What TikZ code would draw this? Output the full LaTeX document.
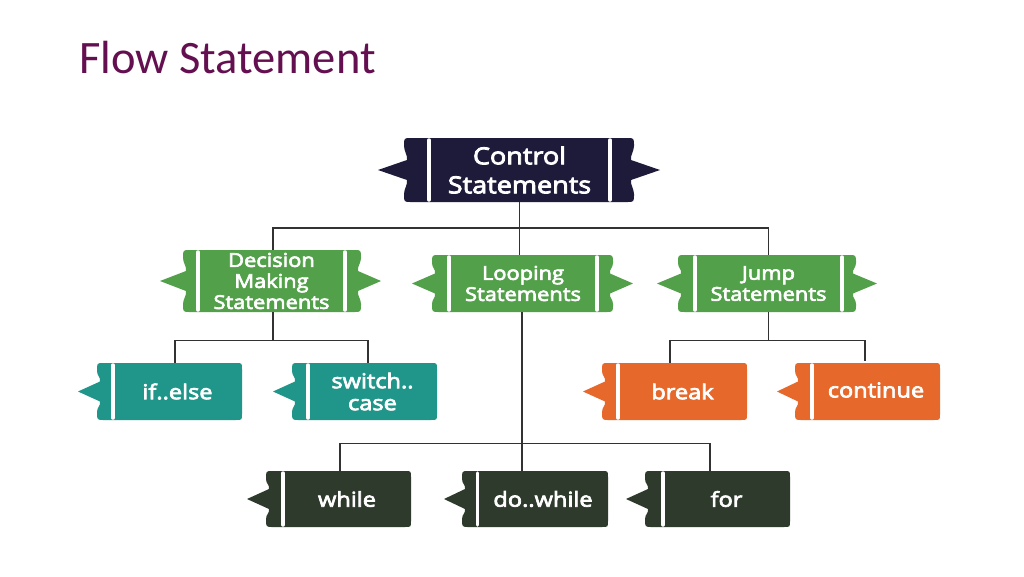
\documentclass[tikz,border=0pt]{standalone}
\usepackage{fontspec}
\newfontfamily\boxfont{Open Sans}[FakeStretch=1.15,FakeBold=3.5]
\newfontfamily\titlefont{Carlito}
\definecolor{ctrlcol}{RGB}{30,27,58}
\definecolor{grn}{RGB}{82,160,73}
\definecolor{tealc}{RGB}{31,150,137}
\definecolor{orng}{RGB}{230,104,42}
\definecolor{darkc}{RGB}{45,58,44}
\definecolor{titlecol}{RGB}{100,16,80}
\definecolor{linec}{RGB}{50,50,50}
% left tab only: #1 colour, #2 tip x, #3 left x, #4 right x, #5 top, #6 bottom
\newcommand\tabone[6]{%
 \pgfmathsetmacro\bm{(#5+#6)/2}%
 \fill[#1] ({#3+6},#5) -- ({#4-6},#5) .. controls (#4,#5) .. (#4,{#5+6}) -- (#4,{#6-6}) .. controls (#4,#6) .. ({#4-6},#6)
  -- ({#3+7},#6) .. controls (#3,#6) .. (#3,{#6-8}) .. controls (#3,{#6-13}) and ({#3+4},{\bm+14}) .. ({#3+3},{\bm+10}) -- (#2,\bm) -- ({#3+3},{\bm-10}) .. controls ({#3+4},{\bm-14}) and (#3,{#5+13}) .. (#3,{#5+8}) .. controls (#3,#5) .. cycle;}
% two tabs: #1 colour, #2 left tip, #3 left x, #4 right x, #5 right tip, #6 top, #7 bottom
\newcommand\tabtwo[7]{%
 \pgfmathsetmacro\bm{(#6+#7)/2}%
 \fill[#1] ({#3+7},#6) -- ({#4-7},#6) .. controls (#4,#6) .. (#4,{#6+8}) .. controls (#4,{#6+13}) and ({#4-4},{\bm-14}) .. ({#4-3},{\bm-10}) -- (#5,\bm) -- ({#4-3},{\bm+10}) .. controls ({#4-4},{\bm+14}) and (#4,{#7-13}) .. (#4,{#7-8}) .. controls (#4,#7) .. ({#4-7},#7)
  -- ({#3+7},#7) .. controls (#3,#7) .. (#3,{#7-8}) .. controls (#3,{#7-13}) and ({#3+4},{\bm+14}) .. ({#3+3},{\bm+10}) -- (#2,\bm) -- ({#3+3},{\bm-10}) .. controls ({#3+4},{\bm-14}) and (#3,{#6+13}) .. (#3,{#6+8}) .. controls (#3,#6) .. cycle;}
\begin{document}
\begin{tikzpicture}[x=1pt,y=-1pt,
  lbl/.style={text=white,align=center,inner sep=0pt,font=\boxfont\fontsize{20.5}{22}\selectfont},
  lblmid/.style={lbl,font=\boxfont\fontsize{19}{21}\selectfont},
  lbltop/.style={lbl,font=\boxfont\fontsize{23.5}{29}\selectfont},
  whitebar/.style={white,line width=3.5pt,line cap=round},
  conn/.style={linec,line width=1.3pt}]
\useasboundingbox[fill=white] (0,0) rectangle (1024,576);
\node[anchor=base west,font=\titlefont\fontsize{46.5}{50}\selectfont,text=titlecol,inner sep=0pt] (title) at (79,73) {Flow Statement};

% shapes
\tabtwo{ctrlcol}{378}{404}{634}{660}{138}{202}
\draw[whitebar] (429,140) -- (429,200);
\draw[whitebar] (610,140) -- (610,200);
\tabtwo{grn}{160}{183}{361}{381}{250}{312}
\draw[whitebar] (198,252) -- (198,310);
\draw[whitebar] (345,252) -- (345,310);
\tabtwo{grn}{412}{432}{613}{633}{255}{312}
\draw[whitebar] (449,257) -- (449,310);
\draw[whitebar] (597,257) -- (597,310);
\tabtwo{grn}{657}{678}{856}{877}{255}{312}
\draw[whitebar] (695,257) -- (695,310);
\draw[whitebar] (842,257) -- (842,310);
\tabone{tealc}{78}{97}{242}{363}{420}
\draw[whitebar] (113,365) -- (113,418);
\tabone{tealc}{273}{292}{437}{363}{420}
\draw[whitebar] (308,365) -- (308,418);
\tabone{orng}{583}{602}{747}{363}{420}
\draw[whitebar] (618,365) -- (618,418);
\tabone{orng}{777}{795}{940}{363}{420}
\draw[whitebar] (812,365) -- (812,418);
\tabone{darkc}{247}{266}{411}{471}{527}
\draw[whitebar] (283,473) -- (283,525);
\tabone{darkc}{444}{462}{608}{471}{527}
\draw[whitebar] (477.5,473) -- (477.5,525);
\tabone{darkc}{626}{645}{790}{471}{527}
\draw[whitebar] (663,473) -- (663,525);

% labels
\node[lbltop,minimum width=181,minimum height=64] (ctrl) at (519.5,170) {Control\\Statements};
\node[lblmid,minimum width=147,minimum height=62] (dec) at (271.5,281) {Decision\\Making\\Statements};
\node[lblmid,minimum width=148,minimum height=57] (loop) at (523,283.5) {Looping\\Statements};
\node[lblmid,minimum width=147,minimum height=57] (jmp) at (768.5,283.5) {Jump\\Statements};
\node[lbl,minimum width=129,minimum height=57] (ifel) at (177.5,391.5) {if..else};
\node[lbl,minimum width=129,minimum height=57] (sw) at (372.5,391.5) {switch..\\case};
\node[lbl,minimum width=129,minimum height=57] (brk) at (682.5,391.5) {break};
\node[lbl,minimum width=128,minimum height=57] (cont) at (876,390) {continue};
\node[lbl,minimum width=128,minimum height=56] (whl) at (347,499) {while};
\node[lbl,minimum width=130,minimum height=56] (dow) at (543,499) {do..while};
\node[lbl,minimum width=127,minimum height=56] (forn) at (726.5,499) {for};

% connectors
\coordinate (hub1) at (519.5,228);
\draw[conn] (ctrl.south) -- (ctrl.south |- loop.north);
\draw[conn] ([xshift=1.5pt]dec.north) |- (hub1) -| (jmp.north);
\draw[conn] ([xshift=1.5pt]dec.south) -- ++(0,28) coordinate (h2);
\draw[conn] ([xshift=-2.5pt]ifel.north) |- (h2) -| ([xshift=-4.5pt]sw.north);
\draw[conn] (jmp.south) -- ++(0,28) coordinate (h3);
\draw[conn] ([xshift=-12.5pt]brk.north) |- (h3) -| ([xshift=-11pt]cont.north);
\draw[conn] ([xshift=-1pt]loop.south) -- ++(0,131) coordinate (h4);
\draw[conn] ([xshift=-7pt]whl.north) |- (h4) -| ([xshift=-16.5pt]forn.north);
\draw[conn] (h4) -- (h4 |- dow.north);
\end{tikzpicture}
\end{document}
